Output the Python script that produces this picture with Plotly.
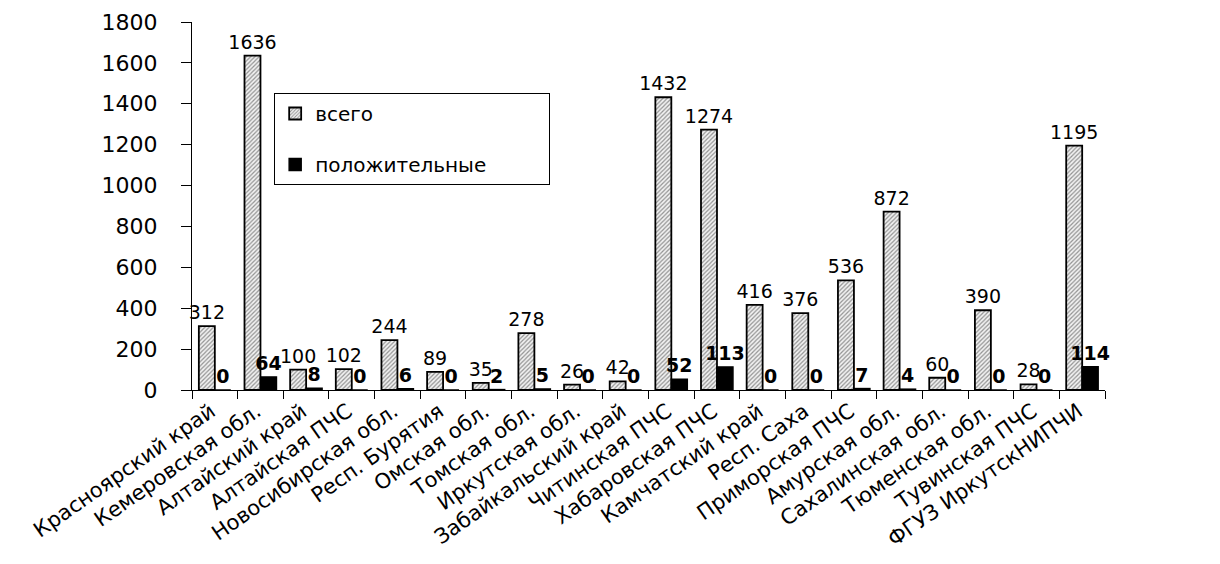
import plotly.graph_objects as go

categories = ["Красноярский край", "Кемеровская обл.", "Алтайский край", "Алтайская ПЧС",
              "Новосибирская обл.", "Респ. Бурятия", "Омская обл.", "Томская обл.",
              "Иркутская обл.", "Забайкальский край", "Читинская ПЧС", "Хабаровская ПЧС",
              "Камчатский край", "Респ. Саха", "Приморская ПЧС", "Амурская обл.",
              "Сахалинская обл.", "Тюменская обл.", "Тувинская ПЧС", "ФГУЗ ИркутскНИПЧИ"]
total = [312, 1636, 100, 102, 244, 89, 35, 278, 26, 42, 1432, 1274, 416, 376, 536, 872, 60, 390, 28, 1195]
positive = [0, 64, 8, 0, 6, 0, 2, 5, 0, 0, 52, 113, 0, 0, 7, 4, 0, 0, 0, 114]
y_ticks = [0, 200, 400, 600, 800, 1000, 1200, 1400, 1600, 1800]

FONT = "DejaVu Sans"
NB = "\u00a0"

fig = go.Figure()
fig.add_trace(go.Bar(
    x=categories, y=total, name="всего", legendgroup="a",
    marker=dict(color="white", line=dict(color="black", width=1.8),
                pattern=dict(shape="/", fgcolor="#333333", bgcolor="#f2f2f2", size=3, solidity=0.4)),
    text=[str(v) for v in total], textposition="outside", cliponaxis=False,
    constraintext="none",
    textfont=dict(family=FONT, size=19, color="black"),
))
fig.add_trace(go.Bar(
    x=categories, y=positive, name="положительные" + NB * 9, legendgroup="b",
    marker=dict(color="black", line=dict(color="black", width=1.5)),
    text=["<b>%d</b>" % v for v in positive], textposition="outside", cliponaxis=False,
    constraintext="none",
    textfont=dict(family=FONT, size=19, color="black"),
))

fig.update_layout(
    width=1204, height=548,
    margin=dict(l=184, r=107, t=14, b=166, autoexpand=False),
    paper_bgcolor="white", plot_bgcolor="white",
    barmode="group", bargap=0.3, bargroupgap=0,
    font=dict(family=FONT, size=20, color="black"),
    showlegend=True,
    legend=dict(x=0.09, y=0.807, xanchor="left", yanchor="top",
                bordercolor="black", borderwidth=1, bgcolor="white",
                font=dict(family=FONT, size=20, color="black"),
                traceorder="grouped", tracegroupgap=22),
    xaxis=dict(showline=True, linecolor="black", linewidth=1, ticks="outside",
               tickson="boundaries", ticklen=8, tickcolor="black", tickangle=-35,
               ticklabelshift=-4, automargin=False,
               tickfont=dict(family=FONT, size=21), showgrid=False),
    yaxis=dict(range=[0, 1800], tickvals=y_ticks, showline=True, linecolor="black",
               linewidth=1, ticks="outside", ticklen=10, tickcolor="black",
               ticklabelstandoff=19, automargin=False,
               tickfont=dict(family=FONT, size=22), showgrid=False, zeroline=False),
)

fig.write_html("out.html")
